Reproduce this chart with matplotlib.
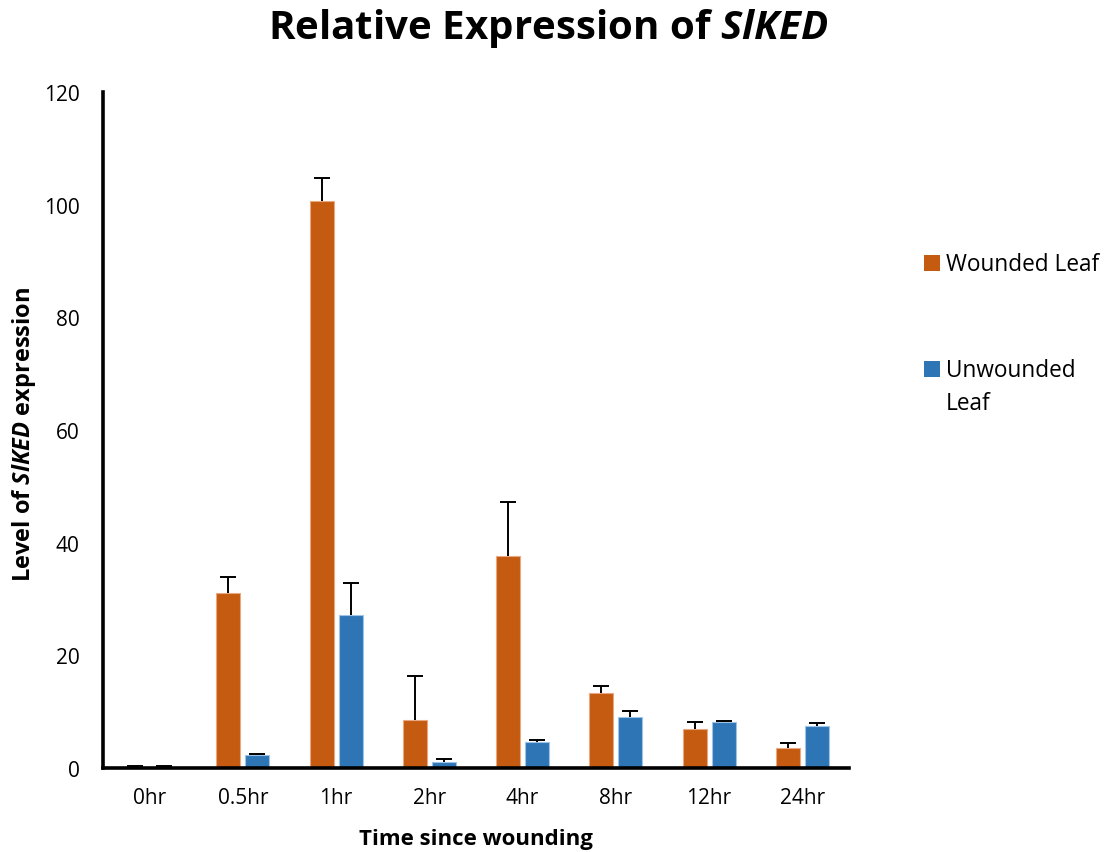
import matplotlib
matplotlib.use("Agg")
import matplotlib.pyplot as plt
from matplotlib.patches import Rectangle
import numpy as np

plt.rcParams['font.family'] = ['Open Sans', 'DejaVu Sans']
plt.rcParams['mathtext.fontset'] = 'custom'
plt.rcParams['mathtext.rm'] = 'Open Sans'
plt.rcParams['mathtext.it'] = 'Open Sans:italic'
plt.rcParams['mathtext.bf'] = 'Open Sans:bold'
plt.rcParams['mathtext.bfit'] = 'Open Sans:italic:bold'

categories = ["0hr", "0.5hr", "1hr", "2hr", "4hr", "8hr", "12hr", "24hr"]
wounded = [0.2, 31.1, 100.7, 8.5, 37.6, 13.4, 6.9, 3.6]
wounded_err = [0.1, 2.8, 4.0, 7.8, 9.7, 1.1, 1.3, 0.9]
unwounded = [0.2, 2.25, 27.2, 1.1, 4.7, 9.1, 8.1, 7.4]
unwounded_err = [0.1, 0.2, 5.7, 0.5, 0.3, 1.1, 0.2, 0.6]
yticks = [0, 20, 40, 60, 80, 100, 120]
series_labels = ["Wounded Leaf", "Unwounded\nLeaf"]

orange = "#C55A11"
blue = "#2E75B6"

W, H = 1114, 853
fig = plt.figure(figsize=(W / 100, H / 100), dpi=100)
ax = fig.add_axes([103/W, 1-769/H, (849-103)/W, (769-93)/H])

x = np.arange(len(categories))
w = 0.258
off = 0.156
ekw = dict(ecolor='black', elinewidth=1.4, capsize=6, capthick=1.4)
containers = []
containers.append(ax.bar(x - off, wounded, w, color=orange, edgecolor='#E8A882', linewidth=0.8,
                         yerr=[np.zeros(len(wounded)), wounded_err], error_kw=ekw, zorder=2))
containers.append(ax.bar(x + off, unwounded, w, color=blue, edgecolor='#9DC3E6', linewidth=0.8,
                         yerr=[np.zeros(len(unwounded)), unwounded_err], error_kw=ekw, zorder=2))
# hide lower caps (errors only go upward)
for c, vals in zip(containers, [wounded, unwounded]):
    caps = c.errorbar.lines[1]
    for cap in caps:
        if np.allclose(cap.get_ydata(), vals):
            cap.set_visible(False)

ax.set_xlim(-0.5, len(categories) - 0.5)
ax.set_ylim(0, 120)
ax.set_yticks(yticks)
ax.set_xticks(x)
ax.set_xticklabels(categories)
ax.tick_params(axis='both', length=0, labelsize=15, colors='black')
ax.tick_params(axis='y', pad=17)
ax.tick_params(axis='x', pad=14)
for s in ['top', 'right']:
    ax.spines[s].set_visible(False)
for s in ['left', 'bottom']:
    ax.spines[s].set_linewidth(2.6)
    ax.spines[s].set_color('black')
    ax.spines[s].set_zorder(3)

fig.text(476/W, 1-840/H, "Time since wounding", fontsize=16, fontweight='bold',
         ha='center', va='center')
fig.text(24/W, 1-434/H, r"Level of $\mathbfit{SlKED}$ expression", rotation=90,
         fontsize=17, fontweight='bold', ha='center', va='center')
fig.text(548/W, 1-28/H, r"Relative Expression of $\mathbfit{SlKED}$", fontsize=29,
         fontweight='bold', ha='center', va='center')

# legend drawn by hand (square aligned with first text line)
leg_colors = [orange, blue]
leg_top = [256, 362]
line_gap = 33
for col, top, lab in zip(leg_colors, leg_top, series_labels):
    fig.patches.append(Rectangle((924/W, 1-(top+15.5)/H), 15.5/W, 15.5/H,
                                 transform=fig.transFigure, facecolor=col, edgecolor='none'))
    for i, line in enumerate(lab.split("\n")):
        fig.text(946/W, 1-(top+15+i*line_gap)/H, line, fontsize=16.3,
                 ha='left', va='baseline')

fig.savefig("out.png", dpi=100)
